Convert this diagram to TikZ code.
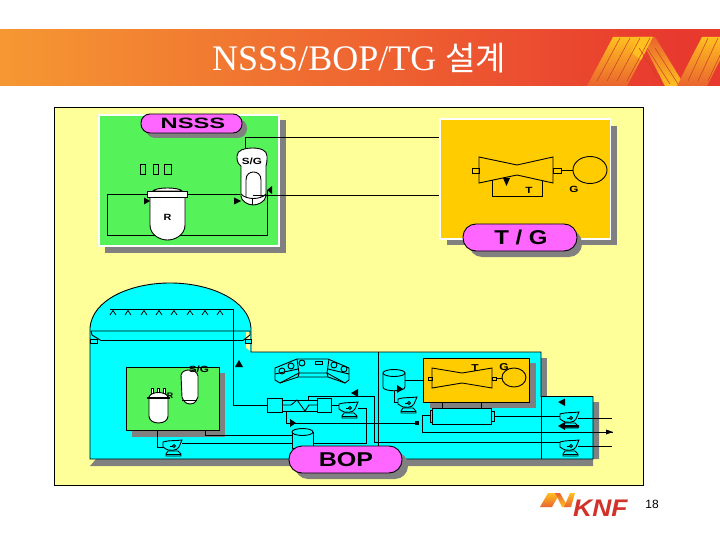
\documentclass[tikz,border=0pt]{standalone}
\usepackage{fontspec}
\usepackage{graphicx}
\setmainfont{Liberation Serif}
\newfontfamily\lsans{Liberation Sans}
\newfontfamily\krfont{Noto Sans CJK KR}
\definecolor{panel}{HTML}{FFFF99}
\definecolor{grn}{HTML}{55F25A}
\definecolor{org}{HTML}{FFCC00}
\definecolor{cyn}{HTML}{00FFFF}
\definecolor{shd}{HTML}{808080}
\definecolor{pill}{HTML}{FF66FF}
\definecolor{bandl}{HTML}{F9B233}
\definecolor{bandr}{HTML}{E8392F}
\definecolor{ribt}{HTML}{FFC020}
\definecolor{ribb}{HTML}{E9642F}
\definecolor{ribd}{HTML}{C8401F}
\pgfdeclarehorizontalshading{bandshade}{100bp}{color(0bp)=(bandl); color(12bp)=(bandl); color(72bp)=(bandr); color(100bp)=(bandr)}
\newcommand{\wlab}[3]{{\lsans\bfseries\fontsize{#2}{#2}\selectfont\scalebox{#1}[1]{#3}}}
\tikzset{
  ln/.style={line width=0.9pt,draw=black},
  shadowbox/.style={fill=shd,draw=none},
  tip/.style={fill=black,draw=none},
  pillshape/.style={rounded corners=#1,fill=pill,draw=black,line width=0.9pt},
  pillshadow/.style={rounded corners=#1,fill=shd,draw=none},
  vessel/.style={fill=white,draw=black,line width=0.9pt},
  lab/.style={inner sep=0pt,text=black},
  pumpicon/.pic={
    \draw[ln,fill=cyn] (-10,-6) .. controls (-4,-8) and (3,-7) .. (9,-8) -- (6,-1) .. controls (5,3) and (-5,3) .. (-7,1) -- (-10,-1) -- cycle;
    \draw[ln] (1,-2) circle (1.6);
    \draw[ln] (-3,-2) -- (0,-2);
    \draw[ln,fill=cyn] (-5,3) -- (5,3) -- (8,6) -- (8,8) -- (-7,8) -- (-7,6) -- cycle;
    \draw[ln] (-7,6) -- (8,6);
  }
}
\begin{document}
\begin{tikzpicture}[x=1pt,y=-1pt]
\useasboundingbox (0,0) rectangle (720,540);
\fill[white] (0,0) rectangle (720,540);
% header band
\shade[shading=bandshade] (0,30) rectangle (720,86);
\shade[top color=ribt,bottom color=ribb] (587,86) -- (613,37) -- (653,37) -- (627,86) -- cycle;
\shade[top color=ribb,bottom color=ribt] (640,37) -- (655,37) -- (685,86) -- (665,86) -- cycle;
\shade[top color=ribt,bottom color=ribb] (677,86) -- (690,60) -- (702,37) -- (720,37) -- (720,60) -- (707,86) -- cycle;
\shade[top color=ribt,bottom color=ribt] (653,37) -- (638,37) -- (631,52) -- (641,60) -- cycle;
\foreach \d in {0,10,20,30} \draw[ribd,line width=0.5pt] (597+\d,86-5) -- (620+\d,38);
\foreach \d in {0,10,20} \draw[ribd,line width=0.5pt] (688+\d,81) -- (708+\d,38);
\foreach \d in {0,8,16} \draw[ribd,line width=0.5pt] (639+\d,48) -- (662+\d,84);
\node[lab,text=white,anchor=base west] (title) at (212,71) {\fontsize{36}{36}\selectfont NSSS/BOP/TG \krfont\fontsize{33}{33}\selectfont 설계};
% panel
\draw[fill=panel,draw=black,line width=0.8pt] (54,107) rectangle (643,485);
% NSSS box
\fill[shadowbox] (105,120) rectangle (286,253);
\fill[white] (98,114) rectangle (280,247);
\fill[grn] (100,116) rectangle (278,245);
\fill[pillshadow=9pt] (146,119) rectangle (247,138);
\draw[pillshape=9pt] (141,114) rectangle (242,133);
\node[lab] (nsss) at (193,123.5) {\wlab{1.58}{15}{NSSS}};
\foreach \a/\b in {140/145,153/158,164/171} \draw[black,line width=0.4pt] (\a,164) rectangle (\b,174);
% primary loop
\draw[ln] (147,194) -- (107,194) -- (107,235) -- (267,235) -- (267,190);
\draw[ln] (187,194) -- (240,194);
% SG
\draw[vessel] (241,166) .. controls (237,163) and (237,160) .. (237,156) .. controls (237,150) and (245,148) .. (252,148) .. controls (260,148) and (267,150) .. (267,156) .. controls (267,161) and (267,163) .. (266,166) -- (266,196) .. controls (265,202) and (258,205) .. (253,205) .. controls (248,205) and (241,201) .. (241,196) -- cycle;
\draw[ln] (246,197) -- (246,180) .. controls (246,174) and (250,172) .. (253.5,172) .. controls (257,172) and (261,174) .. (261,180) -- (261,197);
\draw[ln] (241,194) .. controls (246,200) and (261,200) .. (266,194);
\draw[ln] (252,198) -- (252,205);
\draw[ln] (245,148) -- (245,137) -- (517,137) -- (517,165);
\draw[ln] (253,195.5) -- (492,195.5);
\node[lab] (sg) at (252,161) {\wlab{1.3}{9}{S/G}};
% Reactor
\draw[vessel] (150,197) -- (150,225) .. controls (150,235) and (160,240) .. (167.5,240) .. controls (175,240) and (185,235) .. (185,225) -- (185,197) -- cycle;
\draw[vessel] (153,191) .. controls (156,187) and (179,187) .. (182,191) -- cycle;
\draw[vessel] (147,191) rectangle (187,197);
\node[lab] (r) at (167.5,217) {\wlab{1.2}{9}{R}};
\fill[tip] (144,197.5) -- (150,201) -- (144,204.5) -- cycle;
\fill[tip] (234,197.5) -- (241,201) -- (234,204.5) -- cycle;
\fill[tip] (272,186) -- (267,190) -- (272,194) -- cycle;
% TG box
\fill[shadowbox] (447,126) rectangle (617,245);
\fill[white] (439,118) rectangle (611,240);
\fill[org] (441,120) rectangle (610,238);
\draw[ln,fill=org] (472,168) rectangle (479,173);
\draw[ln,fill=org] (553,168) rectangle (561,173);
\draw[ln] (479,157) -- (517,165) -- (553,157) -- (553,183) -- (517,175) -- (479,183) -- cycle;
\draw[ln] (561,170) -- (573,170);
\draw[ln] (590,170) ellipse (17 and 13.5);
\draw[ln] (492,180) -- (492,196) -- (542,196) -- (542,181);
\fill[tip] (503,178) -- (510,178) -- (506.5,186) -- cycle;
\node[lab] (t) at (529,190) {\wlab{1.3}{9}{T}};
\node[lab] (g) at (574,189) {\wlab{1.3}{9}{G}};
\fill[pillshadow=13pt] (469,230) rectangle (582,257);
\draw[pillshape=13pt] (463,224) rectangle (577,251);
\node[lab] (tg) at (521,237.5) {\wlab{1.2}{20}{T / G}};
% building shadow
\fill[shadowbox] (96,459) -- (599,459) -- (599,402) -- (593,402) -- (593,466) -- (97,466) -- (90,466) -- cycle;
\fill[shadowbox] (541,358) rectangle (547,397);
% building
\draw[ln,fill=cyn] (90,459) -- (90,328) .. controls (92,300) and (130,283) .. (170,283) .. controls (210,283) and (249,300) .. (251,328) -- (251,352) -- (541,352) -- (541,396.5) -- (593,396.5) -- (593,459) -- cycle;
\fill[panel] (246,332) -- (250,332) -- (250,351) -- (246,348) -- cycle;
\draw[ln] (91,331) -- (250,331) -- (250,335) -- (243,340.5) -- (101,340.5) -- (92,335) -- cycle;
\draw[ln,fill=cyn] (90,339) rectangle (97,343);
\draw[ln,fill=cyn] (245,339) rectangle (251,343);
\draw[ln] (110,309) -- (233,309) -- (233,405) -- (267,405);
\foreach \s in {113,128,144,159,174,190,205,220}
  \draw[ln,line width=0.7pt] (\s-3,315) -- (\s,310.5) -- (\s+3,315);
\fill[tip] (239,360) -- (243,367) -- (235,367) -- cycle;
% containment green
\fill[shadowbox] (132,373) rectangle (225,437);
\draw[ln,fill=grn] (126,367) rectangle (219,430);
\foreach \s in {152,158,164} \draw[vessel] (\s-1,394) rectangle (\s+1,388);
\draw[vessel] (149,397) -- (149,416) .. controls (149,420) and (153,423) .. (158.5,423) .. controls (164,423) and (168,420) .. (168,416) -- (168,397) .. controls (166,391) and (151,391) .. (149,397) -- cycle;
\draw[black,line width=2pt] (147,397.5) -- (170,397.5);
\node[lab] (r2) at (170,395.5) {\wlab{1.1}{8}{R}};
\draw[vessel] (181,375) .. controls (182,371) and (186,370) .. (189,370) .. controls (194,370) and (197,372) .. (198,376) -- (198,397) .. controls (196,400) and (196,404) .. (190,404) .. controls (185,404) and (183,400) .. (182,397) -- cycle;
\draw[ln] (182,400) -- (197,400);
\node[lab] (sg2) at (199,369) {\wlab{1.3}{9}{S/G}};
\draw[ln] (157,430) -- (157,447) -- (165,447);
\draw[ln] (205,430) -- (205,435) -- (292,435);
\draw[ln] (182,443) -- (366,443) -- (366,408) -- (358,408);
\pic at (173,448) {pumpicon};
% BOP inside
\draw[ln] (378,352) -- (378,459);
\draw[ln,fill=cyn] (275,368) -- (297,359) -- (328,359) -- (349,368) -- (349,380) -- (345,383) -- (328,377) -- (298,377) -- (280,383) -- (275,380) -- cycle;
\draw[ln] (297,359) -- (299,373) -- (327,373) -- (329,359);
\draw[ln] (299,373) -- (298,377) (327,373) -- (328,377);
\draw[ln] (275,374) -- (298,369);
\draw[ln] (349,374) -- (328,369);
\draw[ln] (280,383) -- (299,373) (345,383) -- (327,373);
\foreach \p in {(282,371),(291,366),(302,363),(334,365),(344,369)} \draw[ln] \p circle (3);
\draw[ln] (315,361) rectangle (322,364);
% heater train
\draw[ln] (286,412) -- (286,423) -- (418,423);
\draw[ln,fill=cyn] (282,400) rectangle (317,411);
\draw[ln] (282,405) -- (291,405) -- (297,400) -- (305,411) -- (309,405) -- (317,405);
\draw[ln,fill=cyn] (267,398) rectangle (282,412);
\draw[ln,fill=cyn] (317,398) rectangle (331,412);
\draw[ln] (308,400) -- (308,396) -- (374,396) -- (374,442) -- (560,442);
\draw[ln] (331,405) -- (341,405);
\fill[tip] (351,393) -- (358,389) -- (358,397) -- cycle;
\fill[tip] (290,419) -- (296,423) -- (290,427) -- cycle;
\fill[tip] (415,420.5) rectangle (419,425);
\pic at (349,410) {pumpicon};
% upper tank
\draw[ln,fill=cyn] (383,373) -- (383,387) .. controls (383,392) and (405,392) .. (405,387) -- (405,373);
\draw[ln,fill=cyn] (394,373) ellipse (11 and 3.5);
\draw[ln] (405,380) -- (423,380);
\draw[ln] (394,391) -- (394,402) -- (401,402);
\fill[tip] (397,385) -- (403,389) -- (397,393) -- cycle;
\pic at (408,405) {pumpicon};
% lower tank
\draw[ln,fill=cyn] (292,432) -- (292,448) -- (313,448) -- (313,432);
\draw[ln,fill=cyn] (302.5,432) ellipse (10.5 and 3.5);
% lower TG
\fill[shadowbox] (430,363) rectangle (536,408);
\draw[ln,fill=org] (423,358) rectangle (529,402);
\draw[ln,fill=org] (428,377) rectangle (432,380);
\draw[ln,fill=org] (492,377) rectangle (496,380);
\draw[ln] (432,368) -- (462,373) -- (492,368) -- (492,388) -- (462,383) -- (432,388) -- cycle;
\draw[ln] (496,378) -- (502,378);
\draw[ln] (514,377.5) ellipse (12 and 9.5);
\node[lab] (t2) at (475,368) {\wlab{1.2}{10}{T}};
\node[lab] (g2) at (504,367) {\wlab{1.2}{10}{G}};
% condenser
\draw[ln] (442,402) -- (442,408) (481,402) -- (481,408);
\draw[ln] (430,415.5) -- (422,415.5) -- (422,432) -- (613,432);
\draw[ln] (494,416) -- (560,416);
\draw[ln,fill=cyn] (430,410) rectangle (432,422);
\draw[ln,fill=cyn] (491,411) rectangle (494,421);
\draw[ln,fill=cyn] (432,408) rectangle (491,424);
\draw[ln] (541,396.5) -- (541,459);
\pic at (570,420) {pumpicon};
\pic at (570,448) {pumpicon};
\draw[ln] (578,418) -- (612,418);
\draw[ln] (578,446) -- (612,446);
\fill[tip] (558,402) -- (565,398.5) -- (565,406) -- cycle;
\fill[tip] (558,426) -- (565,422) -- (565,425) -- (579,425) -- (579,427.5) -- (565,427.5) -- (565,430) -- cycle;
\fill[tip] (606,429.5) -- (613,432) -- (606,434.5) -- cycle;
% BOP pill
\fill[pillshadow=13pt] (295,452) rectangle (408,479);
\draw[pillshape=13pt] (289,446) rectangle (402,473);
\node[lab] (bop) at (346,460) {\wlab{1.25}{20}{BOP}};
% bottom logo
\shade[top color=ribt,bottom color=ribb] (540,507) -- (548,493) -- (560,493) -- (552,507) -- cycle;
\shade[top color=ribb,bottom color=ribt] (555,493) -- (560,493) -- (568,507) -- (562,507) -- cycle;
\shade[top color=ribt,bottom color=ribb] (564,507) -- (570,493) -- (575,493) -- (571,507) -- cycle;
\node[lab,anchor=base west,text=bandr!90!black] (knf) at (573,516.5) {{\lsans\bfseries\itshape\fontsize{24}{24}\selectfont\scalebox{1.1}[1]{KNF}}};
\node[lab] (pg) at (652,504) {\lsans\fontsize{12}{12}\selectfont 18};
\end{tikzpicture}
\end{document}
